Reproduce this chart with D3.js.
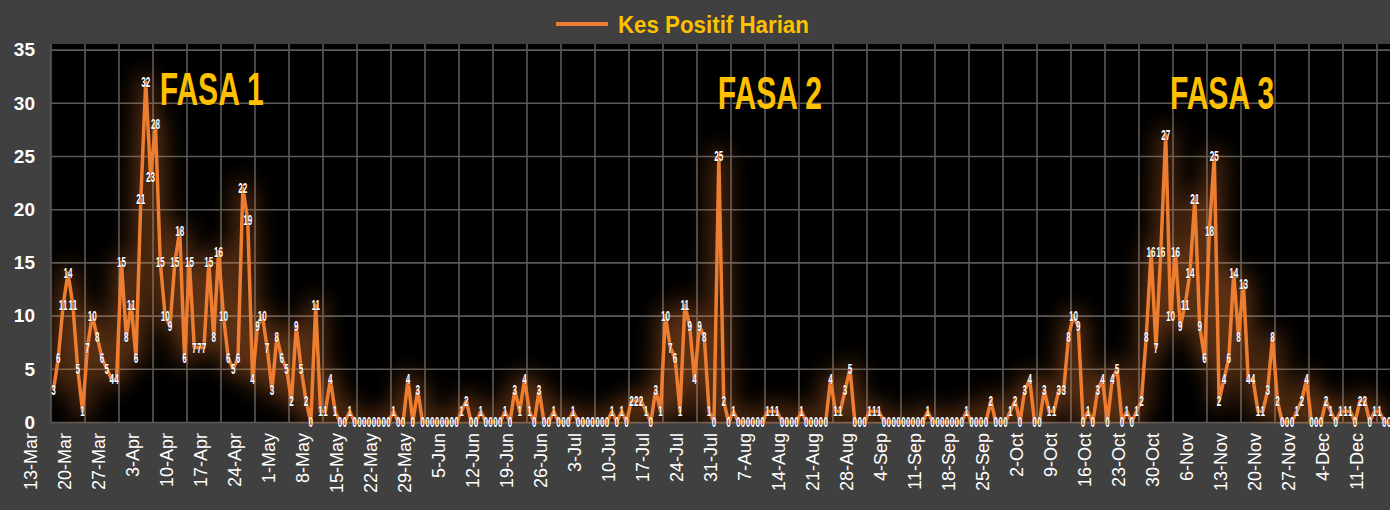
<!DOCTYPE html>
<html>
<head>
<meta charset="utf-8">
<script src="https://cdn.jsdelivr.net/npm/d3@7"></script>
<style>
  body { margin: 0; background: #404040; }
  svg { display: block; }
</style>
</head>
<body>
<div id="chart"></div>
<script>
// daily series starts on 13 March
const startDate = new Date(2020, 2, 13);

const dailyCases = [
  3, 6, 11, 14, 11, 5, 1, 7, 10, 8, 6, 5, 4, 4, 15, 8, 11, 6, 21, 32,
  23, 28, 15, 10, 9, 15, 18, 6, 15, 7, 7, 7, 15, 8, 16, 10, 6, 5, 6, 22,
  19, 4, 9, 10, 7, 3, 8, 6, 5, 2, 9, 5, 2, 0, 11, 1, 1, 4, 1, 0,
  0, 1, 0, 0, 0, 0, 0, 0, 0, 0, 1, 0, 0, 4, 0, 3, 0, 0, 0, 0,
  0, 0, 0, 0, 1, 2, 0, 0, 1, 0, 0, 0, 0, 1, 0, 3, 1, 4, 1, 0,
  3, 0, 0, 1, 0, 0, 0, 1, 0, 0, 0, 0, 0, 0, 0, 1, 0, 1, 0, 2,
  2, 2, 1, 0, 3, 1, 10, 7, 6, 1, 11, 9, 4, 9, 8, 1, 0, 25, 2, 0,
  1, 0, 0, 0, 0, 0, 0, 1, 1, 1, 0, 0, 0, 0, 1, 0, 0, 0, 0, 0,
  4, 1, 1, 3, 5, 0, 0, 0, 1, 1, 1, 0, 0, 0, 0, 0, 0, 0, 0, 0,
  1, 0, 0, 0, 0, 0, 0, 0, 1, 0, 0, 0, 0, 2, 0, 0, 0, 1, 2, 0,
  3, 4, 0, 0, 3, 1, 1, 3, 3, 8, 10, 9, 0, 1, 0, 3, 4, 0, 4, 5,
  0, 1, 0, 1, 2, 8, 16, 7, 16, 27, 10, 16, 9, 11, 14, 21, 9, 6, 18, 25,
  2, 4, 6, 14, 8, 13, 4, 4, 1, 1, 3, 8, 2, 0, 0, 0, 1, 2, 4, 0,
  0, 0, 2, 1, 0, 1, 1, 1, 0, 2, 2, 0, 1, 1, 0, 0
];

const tickLabels = [
  "13-Mar", "20-Mar", "27-Mar", "3-Apr", "10-Apr", "17-Apr", "24-Apr",
  "1-May", "8-May", "15-May", "22-May", "29-May", "5-Jun", "12-Jun",
  "19-Jun", "26-Jun", "3-Jul", "10-Jul", "17-Jul", "24-Jul", "31-Jul",
  "7-Aug", "14-Aug", "21-Aug", "28-Aug", "4-Sep", "11-Sep", "18-Sep",
  "25-Sep", "2-Oct", "9-Oct", "16-Oct", "23-Oct", "30-Oct", "6-Nov",
  "13-Nov", "20-Nov", "27-Nov", "4-Dec", "11-Dec"
];

const yTicks = [0, 5, 10, 15, 20, 25, 30, 35];
const legendLabel = "Kes Positif Harian";
const phaseNames = ["FASA 1", "FASA 2", "FASA 3"];

const W = 1390, H = 510;
const orange = "#ED7D31";
const gold = "#FFC000";

const data = dailyCases.map((v, i) => ({ i, date: d3.timeDay.offset(startDate, i), value: v }));

const svg = d3.select("#chart").append("svg")
  .attr("width", W)
  .attr("height", H);

svg.append("rect").attr("width", W).attr("height", H).attr("fill", "#404040");

// plot area
const left = 51, dayW = 4.857;
const x = d3.scaleLinear()
  .domain([-0.5, data.length - 0.5])
  .range([left, left + data.length * dayW]);
const y = d3.scaleLinear().domain([0, 35]).range([422, 49.6]);

const defs = svg.append("defs");
defs.append("filter").attr("id", "glow")
  .attr("x", "-5%").attr("y", "-20%").attr("width", "110%").attr("height", "140%")
  .append("feGaussianBlur").attr("stdDeviation", 11);
defs.append("clipPath").attr("id", "clip")
  .append("rect").attr("x", left).attr("y", 44).attr("width", W - left).attr("height", 380);

svg.append("rect")
  .attr("x", left).attr("y", 44)
  .attr("width", W - left).attr("height", 422 - 44)
  .attr("fill", "#000");

// horizontal grid
svg.append("g")
  .attr("transform", `translate(${left},0)`)
  .call(d3.axisLeft(y).tickValues(yTicks).tickSize(-(W - left)).tickFormat(""))
  .call(g => g.select(".domain").remove())
  .call(g => g.selectAll("line").attr("stroke", "#595959").attr("stroke-width", 1.6));

// vertical grid at week boundaries
const weekStarts = d3.range(0, data.length, 7);
svg.append("g")
  .selectAll("line")
  .data(weekStarts)
  .join("line")
  .attr("x1", d => x(d - 0.5)).attr("x2", d => x(d - 0.5))
  .attr("y1", 44).attr("y2", 422)
  .attr("stroke", "#595959").attr("stroke-width", 1.6);

// y labels
svg.append("g")
  .selectAll("text")
  .data(yTicks)
  .join("text")
  .attr("x", 35)
  .attr("y", d => y(d))
  .attr("dy", "0.36em")
  .attr("text-anchor", "end")
  .attr("fill", "#fff")
  .attr("font-family", "Liberation Sans, Arial, sans-serif")
  .attr("font-weight", "bold")
  .attr("font-size", 19)
  .text(d => d);

// x labels
svg.append("g")
  .selectAll("text")
  .data(tickLabels)
  .join("text")
  .attr("transform", (d, k) => `translate(${x(k * 7) - 16},433) rotate(-90)`)
  .attr("text-anchor", "end")
  .attr("fill", "#fff")
  .attr("font-family", "Liberation Sans, Arial, sans-serif")
  .attr("font-size", 18)
  .text(d => d);

const line = d3.line()
  .x(d => x(d.i))
  .y(d => y(d.value));

const plot = svg.append("g").attr("clip-path", "url(#clip)");

plot.append("path")
  .datum(data)
  .attr("fill", "none")
  .attr("stroke", orange)
  .attr("stroke-opacity", 0.38)
  .attr("stroke-width", 16)
  .attr("stroke-linejoin", "round")
  .attr("filter", "url(#glow)")
  .attr("d", line);

plot.append("path")
  .datum(data)
  .attr("fill", "none")
  .attr("stroke", orange)
  .attr("stroke-width", 3.5)
  .attr("stroke-linejoin", "round")
  .attr("d", line);

// data labels
svg.append("g")
  .selectAll("text")
  .data(data)
  .join("text")
  .attr("transform", d => `translate(${x(d.i)},${y(d.value)}) scale(0.58,1)`)
  .attr("dy", "0.36em")
  .attr("text-anchor", "middle")
  .attr("fill", "#fff")
  .attr("stroke", "#000")
  .attr("stroke-width", 0.6)
  .attr("paint-order", "stroke")
  .attr("font-family", "Liberation Sans, Arial, sans-serif")
  .attr("font-weight", "bold")
  .attr("font-size", 14)
  .text(d => d.value);

// phase annotations
const phaseAt = [32.6, 147.5, 240.6];
const phaseY = [29.75, 29.45, 29.45];
svg.append("g")
  .selectAll("text")
  .data(phaseNames)
  .join("text")
  .attr("transform", (d, k) => `translate(${x(phaseAt[k])},${y(phaseY[k])}) scale(0.64,1)`)
  .attr("text-anchor", "middle")
  .attr("fill", gold)
  .attr("font-family", "Liberation Sans, Arial, sans-serif")
  .attr("font-weight", "bold")
  .attr("font-size", 47)
  .text(d => d);

// legend
const lg = svg.append("g");
lg.append("line")
  .attr("x1", 556).attr("x2", 608).attr("y1", 24).attr("y2", 24)
  .attr("stroke", orange).attr("stroke-opacity", 0.4).attr("stroke-width", 10)
  .attr("filter", "url(#glow)");
lg.append("line")
  .attr("x1", 556).attr("x2", 608).attr("y1", 24).attr("y2", 24)
  .attr("stroke", orange).attr("stroke-width", 4);
lg.append("text")
  .attr("transform", "translate(618,33) scale(0.93,1)")
  .attr("fill", gold)
  .attr("font-family", "Liberation Sans, Arial, sans-serif")
  .attr("font-weight", "bold")
  .attr("font-size", 24)
  .text(legendLabel);
</script>
</body>
</html>
